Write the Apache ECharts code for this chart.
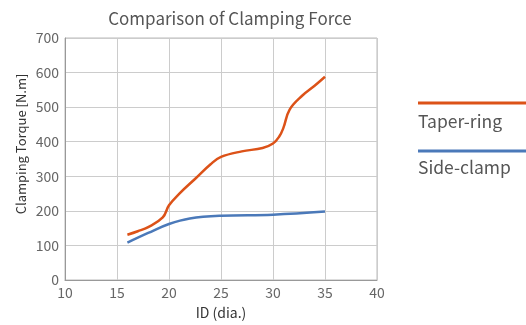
<!DOCTYPE html>
<html><head><meta charset="utf-8">
<script src="https://cdn.jsdelivr.net/npm/echarts@6/dist/echarts.min.js"></script>
<style>html,body{margin:0;padding:0;background:#fff}#c{width:526px;height:325px}</style>
</head><body><div id="c"></div>
<script>
const taperX = [16, 17, 18, 19.4, 20, 21, 22.6, 24, 25, 27, 29, 30, 30.6, 31, 31.6, 32.8, 34, 35];
const taperY = [131, 141, 153, 181, 216, 250, 295, 335, 356, 372, 382, 395, 415, 440, 493, 533, 562, 588];
const sideX = [16, 18, 20, 22, 25, 30, 35];
const sideY = [108, 136, 162, 178, 186, 189, 198];
const xTicks = [10, 15, 20, 25, 30, 35, 40];
const yTicks = [0, 100, 200, 300, 400, 500, 600, 700];
const seriesNames = ['Taper-ring', 'Side-clamp'];
const colors = ['#dc5218', '#4b79b9'];
const font = '"Noto Sans CJK JP"';
const chart = echarts.init(document.getElementById('c'));
chart.setOption({
  animation: false,
  title: {text: 'Comparison of Clamping Force', left: 225, top: 5, textAlign: 'center',
    textStyle: {fontFamily: font, fontSize: 17, fontWeight: 'normal', color: '#555'}},
  grid: {left: 65, right: 149, top: 38, bottom: 32, show: true, borderColor: '#bbb', borderWidth: 1},
  xAxis: {type: 'value', min: xTicks[0], max: xTicks[xTicks.length-1], interval: 5,
    name: 'ID (dia.)', nameLocation: 'middle', nameGap: 26,
    nameTextStyle: {fontFamily: font, fontSize: 14, color: '#333'},
    axisLine: {lineStyle: {color: '#999'}}, axisTick: {show: false},
    axisLabel: {fontFamily: font, fontSize: 14, color: '#666', margin: 6},
    splitLine: {lineStyle: {color: '#ccc'}}},
  yAxis: {type: 'value', min: yTicks[0], max: yTicks[yTicks.length-1], interval: 100,
    axisLine: {show: true, lineStyle: {color: '#999'}}, axisTick: {show: false},
    axisLabel: {fontFamily: font, fontSize: 14, color: '#666', margin: 6},
    splitLine: {lineStyle: {color: '#ccc'}}},
  series: [
    {name: seriesNames[0], type: 'line', smooth: 0.4, symbol: 'none',
      data: taperX.map((x, i) => [x, taperY[i]]), lineStyle: {color: colors[0], width: 2.5}},
    {name: seriesNames[1], type: 'line', smooth: 0.4, symbol: 'none',
      data: sideX.map((x, i) => [x, sideY[i]]), lineStyle: {color: colors[1], width: 2.5}}
  ],
  graphic: [
    {type: 'text', x: 21, y: 144, rotation: Math.PI / 2,
      style: {text: 'Clamping Torque [N.m]', font: '13px "Noto Sans CJK JP"', fill: '#333', align: 'center', verticalAlign: 'middle'}},
    {type: 'line', shape: {x1: 418, y1: 103, x2: 526, y2: 103}, style: {stroke: colors[0], lineWidth: 3}},
    {type: 'text', x: 418, y: 121, style: {text: seriesNames[0], font: '17.5px "Noto Sans CJK JP"', fill: '#555', verticalAlign: 'middle'}},
    {type: 'line', shape: {x1: 418, y1: 151, x2: 526, y2: 151}, style: {stroke: colors[1], lineWidth: 3}},
    {type: 'text', x: 418, y: 167, style: {text: seriesNames[1], font: '17.5px "Noto Sans CJK JP"', fill: '#555', verticalAlign: 'middle'}}
  ]
});
</script></body></html>
